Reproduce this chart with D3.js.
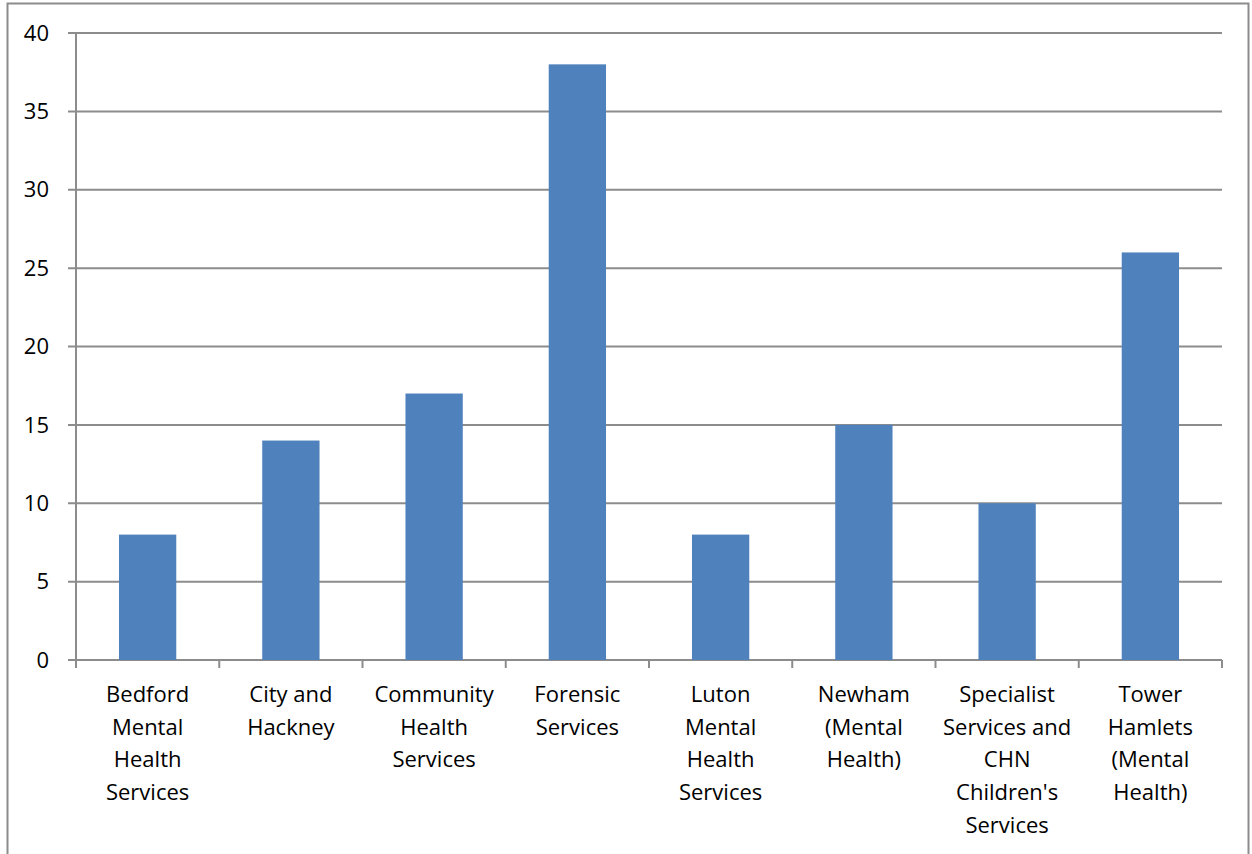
<!DOCTYPE html>
<html>
<head>
<meta charset="utf-8">
<script src="https://cdn.jsdelivr.net/npm/d3@7"></script>
<style>
  body { margin: 0; background: #fff; }
  text { font-family: "Open Sans", "Noto Sans", sans-serif; fill: #000; }
</style>
</head>
<body>
<div id="chart"></div>
<script>
const categories = [
  ["Bedford", "Mental", "Health", "Services"],
  ["City and", "Hackney"],
  ["Community", "Health", "Services"],
  ["Forensic", "Services"],
  ["Luton", "Mental", "Health", "Services"],
  ["Newham", "(Mental", "Health)"],
  ["Specialist", "Services and", "CHN", "Children's", "Services"],
  ["Tower", "Hamlets", "(Mental", "Health)"]
];
const values = [8, 14, 17, 38, 8, 15, 10, 26];
const yTicks = [0, 5, 10, 15, 20, 25, 30, 35, 40];

const width = 1252, height = 854;
const margin = {left: 76, right: 30, top: 33, bottom: 194};
const colors = {bar: "#4f81bd", grid: "#8c8c8c", border: "#8c8c8c"};

const svg = d3.select("#chart").append("svg")
  .attr("width", width).attr("height", height);

// outer frame
svg.append("rect")
  .attr("x", 7.5).attr("y", 3.5)
  .attr("width", 1241).attr("height", 870)
  .attr("fill", "none").attr("stroke", colors.border).attr("stroke-width", 2);

const x = d3.scaleBand()
  .domain(d3.range(categories.length))
  .range([margin.left, width - margin.right])
  .paddingInner(0.6).paddingOuter(0.3);

const xb = d3.scaleLinear()
  .domain([0, categories.length])
  .range([margin.left, width - margin.right]);

const y = d3.scaleLinear()
  .domain([0, 40])
  .range([height - margin.bottom, margin.top]);

// gridlines
svg.append("g").selectAll("line").data(yTicks).join("line")
  .attr("x1", margin.left - 8).attr("x2", width - margin.right)
  .attr("y1", d => y(d)).attr("y2", d => y(d))
  .attr("stroke", colors.grid).attr("stroke-width", 2);

// y labels
svg.append("g").selectAll("text").data(yTicks).join("text")
  .attr("x", 49).attr("y", d => y(d))
  .attr("dy", "0.35em")
  .attr("text-anchor", "end")
  .attr("font-size", 22)
  .text(d => d);

// bars
svg.append("g").selectAll("rect").data(values).join("rect")
  .attr("x", (d, i) => x(i))
  .attr("width", x.bandwidth())
  .attr("y", d => y(d))
  .attr("height", d => y(0) - y(d))
  .attr("fill", colors.bar);

// y axis line
svg.append("line")
  .attr("x1", margin.left).attr("x2", margin.left)
  .attr("y1", y(40)).attr("y2", y(0) + 8)
  .attr("stroke", colors.grid).attr("stroke-width", 2);

// category ticks
svg.append("g").selectAll("line").data(d3.range(1, categories.length + 1)).join("line")
  .attr("x1", d => xb(d)).attr("x2", d => xb(d))
  .attr("y1", y(0)).attr("y2", y(0) + 8)
  .attr("stroke", colors.grid).attr("stroke-width", 2);

// category labels
const lab = svg.append("g").selectAll("text").data(categories).join("text")
  .attr("text-anchor", "middle")
  .attr("font-size", 22)
  .attr("x", (d, i) => xb(i + 0.5))
  .attr("y", y(0) + 42);
lab.selectAll("tspan").data(d => d).join("tspan")
  .attr("x", function() { return this.parentNode.getAttribute("x"); })
  .attr("dy", (d, i) => i === 0 ? 0 : 32.7)
  .text(d => d);
</script>
</body>
</html>
